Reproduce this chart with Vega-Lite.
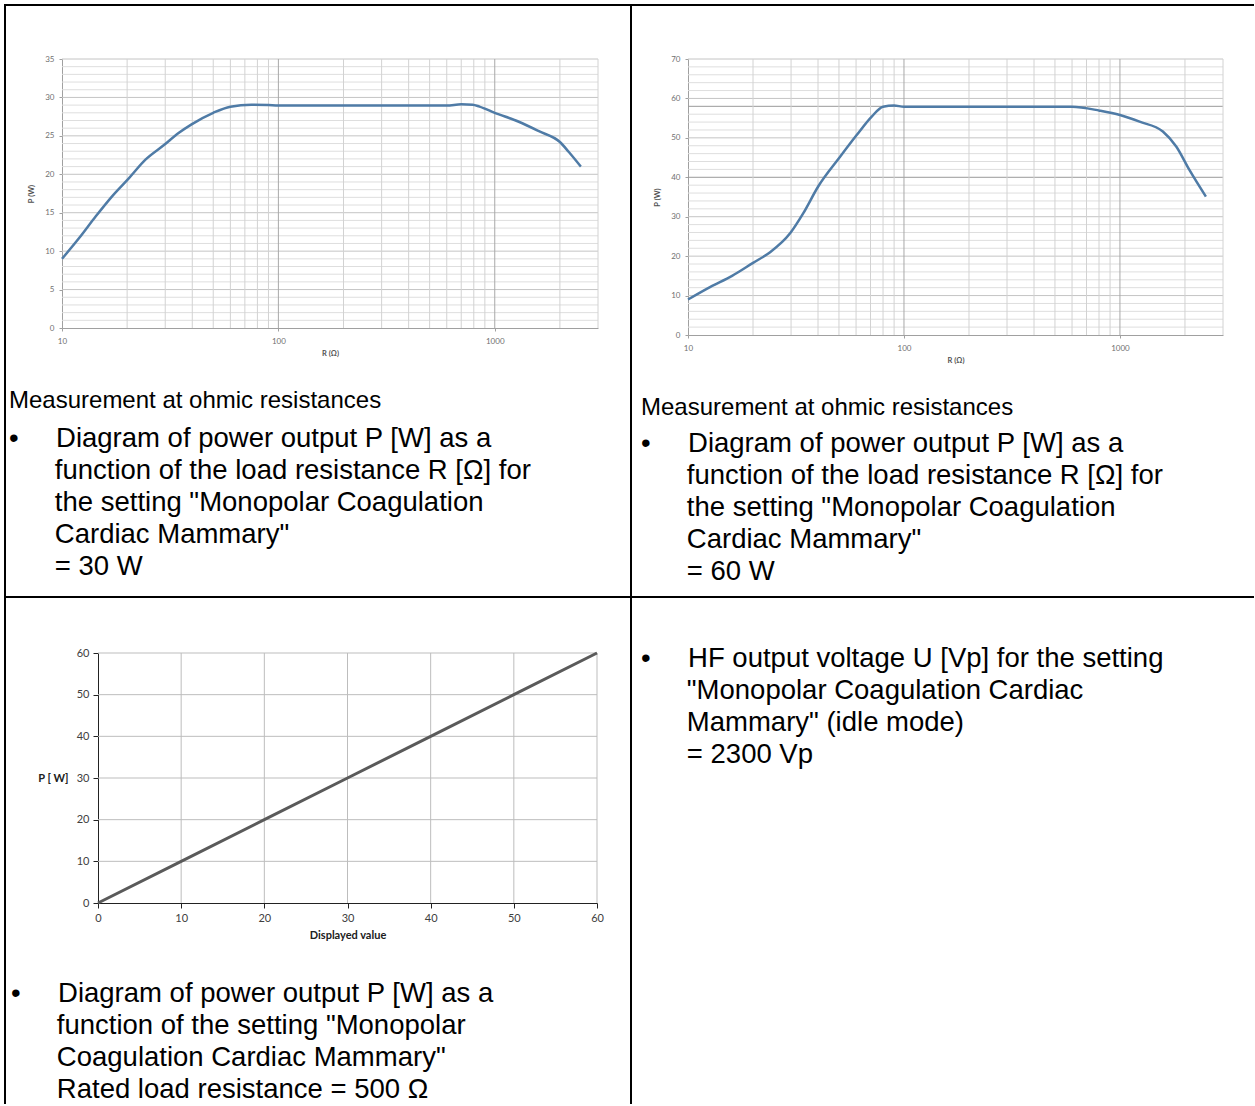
{
  "$schema": "https://vega.github.io/schema/vega-lite/v6.json",
  "padding": {"left": 4, "top": 4, "right": 0, "bottom": 0},
  "background": "white",
  "columns": 2,
  "spacing": 0,
  "bounds": "flush",
  "config": {"axis": {"grid": false, "labelFlush": false}, "view": {"stroke": null}},
  "concat": [
    {
      "width": 626, "height": 592,
      "view": {"stroke": "black", "strokeWidth": 2, "fill": "white"},
      "title": {
        "text": "Measurement at ohmic resistances",
        "subtitle": [
          "\u200b•\u2003\u00a0\u200aDiagram of power output P [W] as a",
          "\u200b\u2003\u2002\u200a\u200afunction of the load resistance R [Ω] for",
          "\u200b\u2003\u2002\u200a\u200athe setting \"Monopolar Coagulation",
          "\u200b\u2003\u2002\u200a\u200aCardiac Mammary\"",
          "\u200b\u2003\u2002\u200a\u200a= 30 W"
        ],
        "orient": "bottom", "anchor": "start", "frame": "group", "offset": -208, "dx": 4,
        "font": "Liberation Sans", "fontSize": 24, "fontWeight": "normal", "color": "#000000",
        "subtitleFont": "Liberation Sans", "subtitleFontSize": 27.5, "subtitleColor": "#000000",
        "subtitleLineHeight": 32, "subtitlePadding": 12
      },
      "layer": [
        {
          "data": {"values": [{"v":1},{"v":2},{"v":3},{"v":4},{"v":6},{"v":7},{"v":8},{"v":9},{"v":11},{"v":12},{"v":13},{"v":14},{"v":16},{"v":17},{"v":18},{"v":19},{"v":21},{"v":22},{"v":23},{"v":24},{"v":26},{"v":27},{"v":28},{"v":29},{"v":31},{"v":32},{"v":33},{"v":34}]},
          "mark": {"type": "rule", "color": "#dedede", "strokeWidth": 1},
          "encoding": {
            "y": {"field": "v", "type": "quantitative", "scale": {"domain": [0, 35], "range": [323, 54], "nice": false},
              "axis": {"title": "P (W)", "values": [0,5,10,15,20,25,30,35], "offset": -57, "orient": "left",
                "domainColor": "#a0a0a0", "tickColor": "#a0a0a0", "tickSize": 3, "labelPadding": 5,
                "labelFont": "Lato", "labelFontSize": 8, "labelColor": "#707070",
                "titleFont": "Lato", "titleFontSize": 7.5, "titleFontWeight": "bold", "titleColor": "#505050", "titlePadding": 9}},
            "x": {"datum": 10, "scale": {"type": "log", "domain": [10, 3000], "range": [57, 593], "nice": false},
              "axis": {"title": "R (Ω)", "values": [10, 100, 1000], "format": "d", "offset": -269, "orient": "bottom",
                "domainColor": "#a0a0a0", "tickColor": "#a0a0a0", "tickSize": 3, "labelPadding": 6,
                "labelFont": "Lato", "labelFontSize": 8, "labelColor": "#707070",
                "titleFont": "Lato", "titleFontSize": 7.5, "titleFontWeight": "bold", "titleColor": "#505050", "titlePadding": 4}},
            "x2": {"datum": 3000}
          }
        },
        {
          "data": {"values": [{"v":5},{"v":10},{"v":15},{"v":20},{"v":25},{"v":30},{"v":35}]},
          "mark": {"type": "rule", "color": "#c4c4c4", "strokeWidth": 1},
          "encoding": {
            "y": {"field": "v", "type": "quantitative"},
            "x": {"datum": 10},
            "x2": {"datum": 3000}
          }
        },
        {
          "data": {"values": [{"v":20},{"v":30},{"v":40},{"v":50},{"v":60},{"v":70},{"v":80},{"v":90},{"v":200},{"v":300},{"v":400},{"v":500},{"v":600},{"v":700},{"v":800},{"v":900},{"v":2000},{"v":3000}]},
          "mark": {"type": "rule", "color": "#d2d2d2", "strokeWidth": 1},
          "encoding": {
            "x": {"field": "v", "type": "quantitative"},
            "y": {"datum": 0},
            "y2": {"datum": 35}
          }
        },
        {
          "data": {"values": [{"v":100},{"v":1000}]},
          "mark": {"type": "rule", "color": "#a8a8a8", "strokeWidth": 1},
          "encoding": {
            "x": {"field": "v", "type": "quantitative"},
            "y": {"datum": 0},
            "y2": {"datum": 35}
          }
        },
        {
          "data": {"values": [{"R":10,"P":9.0},{"R":12,"P":11.7},{"R":14.3,"P":14.5},{"R":17,"P":17.1},{"R":20.4,"P":19.5},{"R":24.3,"P":21.9},{"R":29.6,"P":23.8},{"R":34.7,"P":25.4},{"R":39.7,"P":26.5},{"R":50,"P":28.0},{"R":60,"P":28.8},{"R":75,"P":29.05},{"R":90,"P":29.0},{"R":100,"P":28.95},{"R":300,"P":28.95},{"R":600,"P":28.95},{"R":700,"P":29.1},{"R":790,"P":29.05},{"R":850,"P":28.8},{"R":1000,"P":28.0},{"R":1300,"P":26.8},{"R":1600,"P":25.6},{"R":2000,"P":24.2},{"R":2200,"P":22.9},{"R":2500,"P":21.0}]},
          "mark": {"type": "line", "color": "#4f7ba6", "strokeWidth": 2.5, "interpolate": "monotone"},
          "encoding": {
            "x": {"field": "R", "type": "quantitative"},
            "y": {"field": "P", "type": "quantitative"}
          }
        }
      ]
    },
    {
      "width": 623, "height": 592,
      "view": {"stroke": "black", "strokeWidth": 2, "strokeDash": [623, 592, 1215], "fill": "white"},
      "title": {
        "text": "Measurement at ohmic resistances",
        "subtitle": [
          "\u200b•\u2003\u00a0\u200aDiagram of power output P [W] as a",
          "\u200b\u2003\u2002\u200a\u200afunction of the load resistance R [Ω] for",
          "\u200b\u2003\u2002\u200a\u200athe setting \"Monopolar Coagulation",
          "\u200b\u2003\u2002\u200a\u200aCardiac Mammary\"",
          "\u200b\u2003\u2002\u200a\u200a= 60 W"
        ],
        "orient": "bottom", "anchor": "start", "frame": "group", "offset": -201, "dx": 10,
        "font": "Liberation Sans", "fontSize": 24, "fontWeight": "normal", "color": "#000000",
        "subtitleFont": "Liberation Sans", "subtitleFontSize": 27.5, "subtitleColor": "#000000",
        "subtitleLineHeight": 32, "subtitlePadding": 10
      },
      "layer": [
        {
          "data": {"values": [{"v":2},{"v":4},{"v":6},{"v":8},{"v":12},{"v":14},{"v":16},{"v":18},{"v":22},{"v":24},{"v":26},{"v":28},{"v":32},{"v":34},{"v":36},{"v":38},{"v":42},{"v":44},{"v":46},{"v":48},{"v":52},{"v":54},{"v":56},{"v":62},{"v":64},{"v":66},{"v":68}]},
          "mark": {"type": "rule", "color": "#dedede", "strokeWidth": 1},
          "encoding": {
            "y": {"field": "v", "type": "quantitative", "scale": {"domain": [0, 70], "range": [330, 54], "nice": false},
              "axis": {"title": "P (W)", "values": [0,10,20,30,40,50,60,70], "offset": -57, "orient": "left",
                "domainColor": "#a0a0a0", "tickColor": "#a0a0a0", "tickSize": 3, "labelPadding": 5,
                "labelFont": "Lato", "labelFontSize": 8, "labelColor": "#707070",
                "titleFont": "Lato", "titleFontSize": 7.5, "titleFontWeight": "bold", "titleColor": "#505050", "titlePadding": 9}},
            "x": {"datum": 10, "scale": {"type": "log", "domain": [10, 3000], "range": [57, 592], "nice": false},
              "axis": {"title": "R (Ω)", "values": [10, 100, 1000], "format": "d", "offset": -262, "orient": "bottom",
                "domainColor": "#a0a0a0", "tickColor": "#a0a0a0", "tickSize": 3, "labelPadding": 6,
                "labelFont": "Lato", "labelFontSize": 8, "labelColor": "#707070",
                "titleFont": "Lato", "titleFontSize": 7.5, "titleFontWeight": "bold", "titleColor": "#505050", "titlePadding": 4}},
            "x2": {"datum": 3000}
          }
        },
        {
          "data": {"values": [{"v":10},{"v":20},{"v":30},{"v":50},{"v":60},{"v":70}]},
          "mark": {"type": "rule", "color": "#c4c4c4", "strokeWidth": 1},
          "encoding": {
            "y": {"field": "v", "type": "quantitative"},
            "x": {"datum": 10},
            "x2": {"datum": 3000}
          }
        },
        {
          "data": {"values": [{"v":40},{"v":58}]},
          "mark": {"type": "rule", "color": "#9a9a9a", "strokeWidth": 1},
          "encoding": {
            "y": {"field": "v", "type": "quantitative"},
            "x": {"datum": 10},
            "x2": {"datum": 3000}
          }
        },
        {
          "data": {"values": [{"v":20},{"v":30},{"v":40},{"v":50},{"v":60},{"v":70},{"v":80},{"v":90},{"v":200},{"v":300},{"v":400},{"v":500},{"v":600},{"v":700},{"v":800},{"v":900},{"v":2000},{"v":3000}]},
          "mark": {"type": "rule", "color": "#d2d2d2", "strokeWidth": 1},
          "encoding": {
            "x": {"field": "v", "type": "quantitative"},
            "y": {"datum": 0},
            "y2": {"datum": 70}
          }
        },
        {
          "data": {"values": [{"v":100},{"v":1000}]},
          "mark": {"type": "rule", "color": "#a8a8a8", "strokeWidth": 1},
          "encoding": {
            "x": {"field": "v", "type": "quantitative"},
            "y": {"datum": 0},
            "y2": {"datum": 70}
          }
        },
        {
          "data": {"values": [{"R":10,"P":9.0},{"R":12.7,"P":12.2},{"R":16,"P":15.0},{"R":20,"P":18.3},{"R":24,"P":21.0},{"R":29.7,"P":25.8},{"R":34.2,"P":30.9},{"R":40,"P":37.6},{"R":50.6,"P":45.2},{"R":60.4,"P":50.7},{"R":70.9,"P":55.4},{"R":80,"P":57.9},{"R":90,"P":58.2},{"R":100,"P":57.9},{"R":300,"P":57.9},{"R":600,"P":57.9},{"R":806,"P":56.9},{"R":1000,"P":55.8},{"R":1233,"P":54.1},{"R":1580,"P":51.6},{"R":1822,"P":47.8},{"R":2100,"P":41.8},{"R":2500,"P":35.1}]},
          "mark": {"type": "line", "color": "#4f7ba6", "strokeWidth": 2.5, "interpolate": "monotone"},
          "encoding": {
            "x": {"field": "R", "type": "quantitative"},
            "y": {"field": "P", "type": "quantitative"}
          }
        }
      ]
    },
    {
      "width": 626, "height": 507,
      "view": {"stroke": "black", "strokeWidth": 2, "strokeDash": [1133, 626, 507], "fill": "white"},
      "title": {
        "text": [
          "\u200b•\u2003\u00a0\u200aDiagram of power output P [W] as a",
          "\u200b\u2003\u2002\u200a\u200afunction of the setting \"Monopolar",
          "\u200b\u2003\u2002\u200a\u200aCoagulation Cardiac Mammary\"",
          "\u200b\u2003\u2002\u200a\u200aRated load resistance = 500 Ω"
        ],
        "orient": "bottom", "anchor": "start", "frame": "group", "offset": -124, "dx": 6,
        "font": "Liberation Sans", "fontSize": 27.5, "fontWeight": "normal", "color": "#000000", "lineHeight": 32
      },
      "layer": [
        {
          "data": {"values": [{"v":10},{"v":20},{"v":30},{"v":40},{"v":50},{"v":60}]},
          "mark": {"type": "rule", "color": "#bdbdbd", "strokeWidth": 1},
          "encoding": {
            "y": {"field": "v", "type": "quantitative", "scale": {"domain": [0, 60], "range": [306, 56], "nice": false},
              "axis": {"title": "P [ W]", "values": [0,10,20,30,40,50,60], "offset": -93, "orient": "left",
                "domainColor": "#222222", "tickColor": "#222222", "tickSize": 5, "labelPadding": 4,
                "labelFont": "Lato", "labelFontSize": 11, "labelColor": "#404040",
                "titleFont": "Lato", "titleFontSize": 11, "titleFontWeight": "bold", "titleColor": "#202020",
                "titleAngle": 0, "titleAlign": "right", "titleBaseline": "middle", "titleX": -30, "titleY": 181}},
            "x": {"datum": 0, "scale": {"domain": [0, 60], "range": [93, 592], "nice": false},
              "axis": {"title": "Displayed value", "values": [0,10,20,30,40,50,60], "offset": -201, "orient": "bottom",
                "domainColor": "#222222", "tickColor": "#222222", "tickSize": 5, "labelPadding": 4,
                "labelFont": "Lato", "labelFontSize": 11, "labelColor": "#404040",
                "titleFont": "Lato", "titleFontSize": 11, "titleFontWeight": "bold", "titleColor": "#202020", "titlePadding": 6}},
            "x2": {"datum": 60}
          }
        },
        {
          "data": {"values": [{"v":10},{"v":20},{"v":30},{"v":40},{"v":50},{"v":60}]},
          "mark": {"type": "rule", "color": "#bdbdbd", "strokeWidth": 1},
          "encoding": {
            "x": {"field": "v", "type": "quantitative"},
            "y": {"datum": 0},
            "y2": {"datum": 60}
          }
        },
        {
          "data": {"values": [{"D":0,"P":0},{"D":10,"P":10},{"D":20,"P":20},{"D":30,"P":30},{"D":40,"P":40},{"D":50,"P":50},{"D":60,"P":60}]},
          "mark": {"type": "line", "color": "#5a5a5a", "strokeWidth": 3},
          "encoding": {
            "x": {"field": "D", "type": "quantitative"},
            "y": {"field": "P", "type": "quantitative"}
          }
        }
      ]
    },
    {
      "width": 623, "height": 507,
      "view": {"stroke": "black", "strokeWidth": 2, "strokeDash": [623, 1130, 507], "fill": "white"},
      "title": {
        "text": [
          "\u200b•\u2003\u00a0\u200aHF output voltage U [Vp] for the setting",
          "\u200b\u2003\u2002\u200a\u200a\"Monopolar Coagulation Cardiac",
          "\u200b\u2003\u2002\u200a\u200aMammary\" (idle mode)",
          "\u200b\u2003\u2002\u200a\u200a= 2300 Vp"
        ],
        "orient": "bottom", "anchor": "start", "frame": "group", "offset": -459, "dx": 10,
        "font": "Liberation Sans", "fontSize": 27.5, "fontWeight": "normal", "color": "#000000", "lineHeight": 32
      },
      "data": {"values": []},
      "mark": {"type": "point", "opacity": 0}
    }
  ]
}
